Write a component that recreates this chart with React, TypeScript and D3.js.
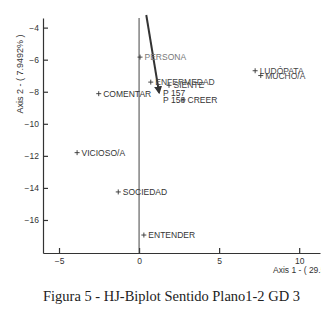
import React, { useEffect, useRef } from 'react';
import * as d3 from 'd3';

// Row / column markers (biplot coordinates)
const labels = ['PERSONA', 'ENFERMEDAD', 'SIENTE', 'CREER', 'LUDÓPATA', 'MUCHO/A', 'COMENTAR', 'VICIOSO/A', 'SOCIEDAD', 'ENTENDER'];
const axis1 = [0.06, 0.73, 1.87, 2.75, 7.25, 7.6, -2.52, -3.87, -1.3, 0.3];
const axis2 = [-5.84, -7.4, -7.6, -8.5, -6.69, -6.99, -8.12, -11.8, -14.25, -16.94];
const labelColors = ['#777', '#444', '#444', '#333', '#444', '#444', '#333', '#333', '#333', '#333'];

// Individuals drawn as an arrow
const arrowNames = ['P 157', 'P 158'];
const arrowStart = [0.45, -3.1];
const arrowEnd = [1.25, -8.06];

const xTicks = [-5, 0, 5, 10];
const yTicks = [-4, -6, -8, -10, -12, -14, -16];

const App = () => {
  const ref = useRef<SVGSVGElement>(null);

  useEffect(() => {
    const svg = d3.select(ref.current);
    svg.selectAll('*').remove();

    const x = d3.scaleLinear().domain([-6, 11.3]).range([43, 320]);
    const y = d3.scaleLinear().domain([-3.4, -18.06]).range([18, 253]);

    svg.append('rect').attr('width', 328).attr('height', 314).attr('fill', '#fff');

    const font = 'Liberation Sans, Arial, sans-serif';

    // axes
    const gy = svg.append('g').attr('transform', `translate(${x(-6)},0)`);
    gy.call(d3.axisLeft(y).tickValues(yTicks).tickSizeInner(-5).tickSizeOuter(0).tickPadding(4).tickFormat(d3.format('d')));
    const gx = svg.append('g').attr('transform', `translate(0,${y(-18.06)})`);
    gx.call(d3.axisBottom(x).tickValues(xTicks).tickSizeInner(-5).tickSizeOuter(0).tickPadding(3).tickFormat(d3.format('d')));
    [gx, gy].forEach((g) => {
      g.selectAll('path, line').attr('stroke', '#333').attr('stroke-width', 1.2);
      g.selectAll('text').attr('font-family', font).attr('font-size', 8.5).attr('fill', '#333');
    });
    gx.selectAll('.tick text').attr('dy', '0.9em');

    // zero line
    svg.append('line')
      .attr('x1', x(0)).attr('x2', x(0))
      .attr('y1', y(-3.4)).attr('y2', y(-18.06))
      .attr('stroke', '#444').attr('stroke-width', 1);

    // axis titles
    svg.append('text')
      .attr('transform', `translate(20,${y(-6.9)}) rotate(-90)`)
      .attr('text-anchor', 'middle')
      .attr('dy', '0.35em')
      .attr('font-family', font).attr('font-size', 9).attr('fill', '#333')
      .text('Axis 2 - ( 7.9492% )');

    const defs = svg.append('defs');
    defs.append('clipPath').attr('id', 'clipTitle')
      .append('rect').attr('x', 0).attr('y', 0).attr('width', 321).attr('height', 314);
    svg.append('text')
      .attr('x', 273).attr('y', 273)
      .attr('clip-path', 'url(#clipTitle)')
      .attr('font-family', font).attr('font-size', 8.5).attr('fill', '#333')
      .text('Axis 1 - ( 29.5% )');

    // arrow
    const marker = defs.append('marker')
      .attr('id', 'head').attr('viewBox', '0 0 10 10')
      .attr('refX', 8).attr('refY', 5)
      .attr('markerWidth', 4).attr('markerHeight', 4)
      .attr('orient', 'auto');
    marker.append('path').attr('d', 'M0,0L10,5L0,10z').attr('fill', '#333');
    svg.append('line')
      .attr('x1', x(arrowStart[0])).attr('y1', Math.max(y(arrowStart[1]), 15))
      .attr('x2', x(arrowEnd[0])).attr('y2', y(arrowEnd[1]))
      .attr('stroke', '#333').attr('stroke-width', 2)
      .attr('marker-end', 'url(#head)');
    arrowNames.forEach((n, i) => {
      svg.append('text')
        .attr('x', x(arrowEnd[0]) + 4)
        .attr('y', y(arrowEnd[1]) + 3 + i * 7)
        .attr('font-family', font).attr('font-size', 8.5).attr('fill', '#333')
        .text(n);
    });

    // points
    const pts = svg.append('g');
    labels.forEach((l, i) => {
      const px = x(axis1[i]);
      const py = y(axis2[i]);
      pts.append('path')
        .attr('d', `M${px - 2.5},${py}H${px + 2.5}M${px},${py - 2.5}V${py + 2.5}`)
        .attr('stroke', '#333').attr('stroke-width', 0.9).attr('fill', 'none');
      pts.append('text')
        .attr('x', px + 4.5).attr('y', py).attr('dy', '0.36em')
        .attr('font-family', font).attr('font-size', 8.5).attr('fill', labelColors[i])
        .text(l);
    });

    // caption
    svg.append('text')
      .attr('x', 43).attr('y', 301)
      .attr('textLength', 257).attr('lengthAdjust', 'spacingAndGlyphs')
      .attr('font-family', 'Liberation Serif, serif').attr('font-size', 14).attr('fill', '#222')
      .text('Figura 5 - HJ-Biplot Sentido Plano1-2 GD 3');
  }, []);

  return (
    <svg ref={ref} width={328} height={314} style={{ position: 'absolute', left: 0, top: 0 }} />
  );
};

export default App;
